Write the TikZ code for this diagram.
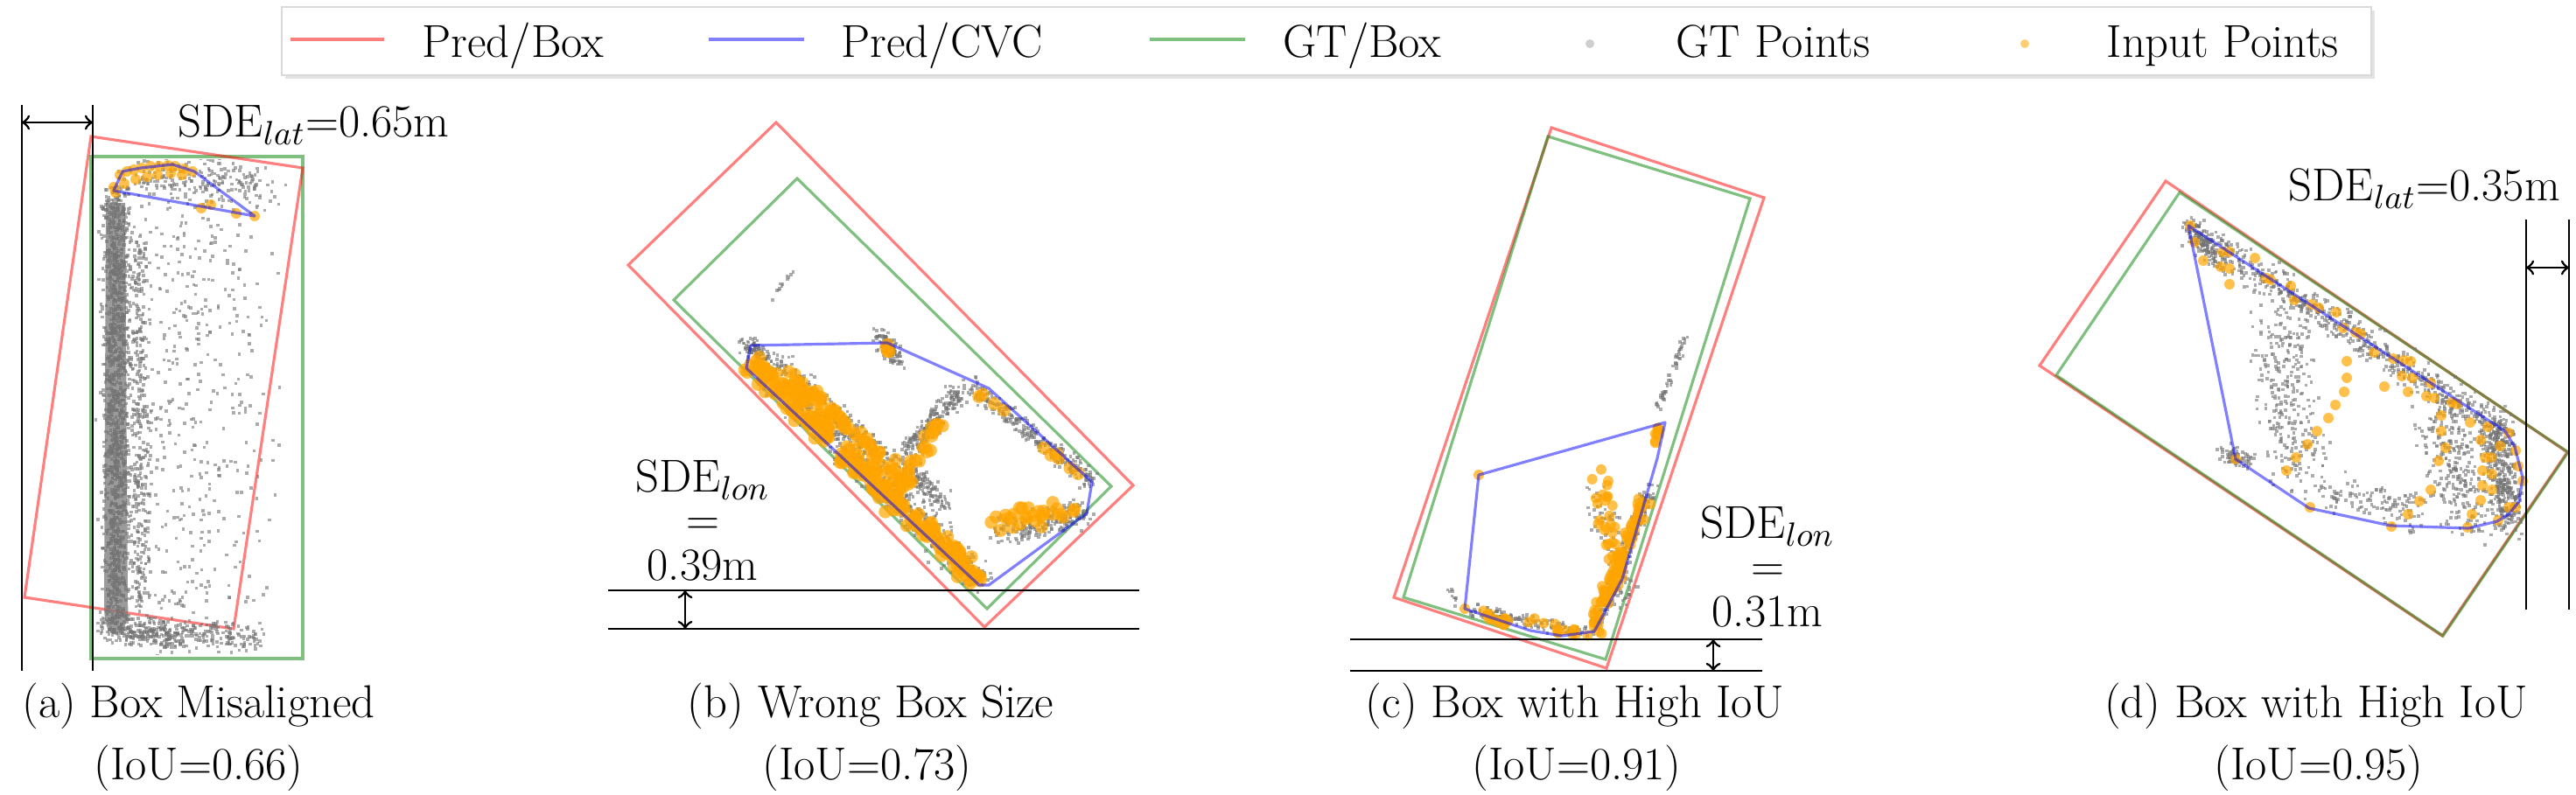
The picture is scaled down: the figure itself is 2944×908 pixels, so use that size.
\documentclass[tikz,border=0pt]{standalone}
\usepackage{tikz}
\usetikzlibrary{arrows,positioning}
\definecolor{gtgreen}{RGB}{0,128,0}
\definecolor{inorange}{RGB}{255,165,0}
\tikzset{
  predbox/.style={draw=red, draw opacity=0.5, line width=0.9pt},
  predcvc/.style={draw=blue, draw opacity=0.5, line width=0.9pt, line join=round},
  gtbox/.style={draw=gtgreen, draw opacity=0.5, line width=0.9pt},
  gtpt/.style={fill=gray!90!black, fill opacity=0.6},
  inpt/.style={fill=inorange, fill opacity=0.7},
  dimline/.style={black, line width=0.8pt},
  dimarrow/.style={<->, black, line width=0.8pt},
  sdelabel/.style={align=center, anchor=north},
}
% band of input points: count, x1, y1, x2, y2, spread, radius
\newcommand{\ptband}[7]{%
  \foreach \k in {1,...,#1}{%
    \pgfmathsetmacro{\tb}{rnd}%
    \fill[inpt] ({#2+(#4-#2)*\tb+#6*(rand+rand)/2},{-(#3+(#5-#3)*\tb+#6*(rand+rand)/2)}) circle (#7);
  }}
% band of GT points (small squares): count, x1, y1, x2, y2, spread
\newcommand{\gtband}[6]{%
  \foreach \k in {1,...,#1}{%
    \pgfmathsetmacro{\tb}{rnd}%
    \fill[gtpt] ({#2+(#4-#2)*\tb+#6*(rand+rand)/2},{-(#3+(#5-#3)*\tb+#6*(rand+rand)/2)}) rectangle ++(3.6,3.6);
  }}

\begin{document}
\begin{tikzpicture}[x=0.1mm, y=0.1mm]
  \tikzstyle{every node}+=[inner sep=0pt, font=\fontsize{15}{18}\selectfont]
  \useasboundingbox (0,0) rectangle (2944,-908);

  % legend
  \fill[gray!22] (326,-12) rectangle (2714,-90);
  \draw[gray!30, fill=white] (322,-8) rectangle (2710,-86);
  \draw[predbox] (332,-45) -- (439,-45);
  \node[anchor=base west] (lgPredBox) at (482,-65) {Pred/Box};
  \draw[predcvc] (810,-45) -- (919,-45);
  \node[anchor=base west] (lgPredCVC) at (961,-65) {Pred/CVC};
  \draw[gtbox] (1314,-45) -- (1423,-45);
  \node[anchor=base west] (lgGTBox) at (1466,-65) {GT/Box};
  \fill[gtpt, fill opacity=0.35] (1817,-50) circle (5);
  \node[anchor=base west] (lgGTPts) at (1915,-65) {GT Points};
  \fill[inpt, fill opacity=0.55] (2314,-50) circle (5);
  \node[anchor=base west] (lgInPts) at (2407,-65) {Input Points};

  % (a) box misaligned
  \pgfmathsetseed{11}
  \draw[gtbox] (104,-179) rectangle (346,-753);
  \draw[predbox] (104,-156) -- (346,-192) -- (267,-719) -- (28,-683) -- cycle;
  \begin{scope}
    \clip (107,-182) rectangle (343,-748);
    \fill[gray!95!black, fill opacity=0.75] (121,-232) -- (143,-232) -- (146,-690)
      .. controls (148,-712) and (140,-725) .. (130,-725)
      .. controls (122,-722) and (119,-712) .. (119,-690) -- cycle;
    \gtband{1300}{131}{222}{131}{712}{18}
    \gtband{360}{158}{260}{158}{690}{14}
    \gtband{240}{124}{720}{200}{730}{22}
    \gtband{150}{185}{724}{292}{732}{22}
    \gtband{200}{150}{202}{300}{215}{30}
    \gtband{520}{215}{205}{215}{735}{112}
  \end{scope}
  \foreach \x/\y in {130/214,137/200,145/196,153/194,162/192,172/190,182/190,192/189,
    200/190,210/193,220/196,142/210,155/205,168/202,180/200,195/198,208/200,132/220,
    230/238,241/234,270/244,291/247}
    \fill[inpt] (\x,-\y) circle (6);
  \draw[predcvc] (130,-218) -- (140,-196) -- (161,-192) -- (197,-188) -- (222,-196)
    -- (291,-247) -- cycle;
  \draw[dimline] (25,-120) -- (25,-767);
  \draw[dimline] (106,-120) -- (106,-767);
  \coordinate (aL) at (25,-140);
  \coordinate (aR) at (106,-140);
  \draw[dimarrow] (aL) -- (aR);
  \node[anchor=base west] (sdeA) at (203,-156) {SDE$_{lat}$=0.65m};
  \node[anchor=base] (capA) at (227,-820) {(a) Box Misaligned};
  \node[anchor=base] (iouA) at (227,-891) {(IoU=0.66)};

  % (b) wrong box size
  \pgfmathsetseed{23}
  \draw[predbox] (887,-140) -- (1295,-555) -- (1125,-717) -- (718,-303) -- cycle;
  \draw[gtbox] (911,-204) -- (1270,-556) -- (1128,-696) -- (770,-343) -- cycle;
  \gtband{600}{855}{405}{1122}{668}{22}
  \gtband{240}{890}{418}{1030}{545}{15}
  \gtband{220}{1034}{520}{1095}{450}{15}
  \gtband{280}{1105}{440}{1245}{552}{13}
  \gtband{220}{1140}{612}{1238}{588}{20}
  \gtband{140}{1030}{530}{1080}{580}{15}
  \gtband{120}{1002}{385}{1025}{415}{12}
  \gtband{80}{850}{392}{870}{410}{12}
  \gtband{12}{905}{310}{880}{345}{4}
  \ptband{220}{858}{412}{1120}{664}{16}{7.5}
  \ptband{60}{900}{425}{1040}{556}{11}{7.5}
  \ptband{24}{1030}{560}{1075}{480}{10}{7.5}
  \ptband{28}{1125}{600}{1232}{580}{15}{7.5}
  \ptband{10}{1110}{442}{1238}{548}{6}{7.5}
  \ptband{4}{1008}{392}{1016}{402}{4}{7.5}
  \draw[predcvc] (858,-395) -- (1014,-392) -- (1110,-435) -- (1130,-444) -- (1248,-551)
    -- (1242,-587) -- (1130,-669) -- (1119,-669) -- (853,-421) -- cycle;
  \draw[dimline] (695,-675) -- (1302,-675);
  \draw[dimline] (695,-719) -- (1302,-719);
  \coordinate (bT) at (783,-675);
  \coordinate (bB) at (783,-719);
  \draw[dimarrow] (bT) -- (bB);
  \node[sdelabel] (sdeB) at (803,-525) {SDE$_{lon}$\\[-4pt]=\\[-3.3pt]0.39m};
  \node[anchor=base] (capB) at (995,-820) {(b) Wrong Box Size};
  \node[anchor=base] (iouB) at (991,-891) {(IoU=0.73)};

  % (c) box with high IoU
  \pgfmathsetseed{37}
  \draw[predbox] (1773,-146) -- (2016,-226) -- (1836,-764) -- (1593,-683) -- cycle;
  \draw[gtbox] (1769,-156) -- (2000,-227) -- (1835,-754) -- (1604,-683) -- cycle;
  \gtband{130}{1680}{700}{1810}{725}{10}
  \gtband{240}{1822}{722}{1885}{560}{11}
  \gtband{100}{1820}{560}{1860}{690}{20}
  \gtband{50}{1893}{470}{1925}{385}{5}
  \gtband{10}{1652}{676}{1665}{694}{6}
  \ptband{80}{1822}{718}{1880}{565}{10}{6}
  \ptband{25}{1690}{705}{1815}{722}{8}{6}
  \ptband{34}{1830}{540}{1855}{680}{15}{6}
  \ptband{8}{1895}{485}{1890}{520}{5}{6}
  \fill[inpt] (1690,-543) circle (6);
  \fill[inpt] (1674,-696) circle (6);
  \draw[predcvc] (1690,-543) -- (1903,-483) -- (1894,-524) -- (1854,-662) -- (1822,-722)
    -- (1785,-727) -- (1749,-721) -- (1674,-696) -- cycle;
  \draw[dimline] (1543,-731) -- (2014,-731);
  \draw[dimline] (1543,-767) -- (2014,-767);
  \coordinate (cT) at (1958,-731);
  \coordinate (cB) at (1958,-767);
  \draw[dimarrow] (cT) -- (cB);
  \node[sdelabel] (sdeC) at (2020,-578) {SDE$_{lon}$\\[-4pt]=\\[-3.3pt]0.31m};
  \node[anchor=base] (capC) at (1800,-820) {(c) Box with High IoU};
  \node[anchor=base] (iouC) at (1802,-891) {(IoU=0.91)};

  % (d) box with high IoU
  \pgfmathsetseed{51}
  \draw[predbox] (2475,-207) -- (2934,-517) -- (2791,-727) -- (2331,-418) -- cycle;
  \draw[gtbox] (2491,-220) -- (2935,-517) -- (2792,-727) -- (2350,-429) -- cycle;
  \gtband{620}{2505}{266}{2860}{494}{22}
  \gtband{420}{2848}{485}{2866}{600}{22}
  \gtband{300}{2600}{360}{2625}{545}{40}
  \gtband{260}{2785}{470}{2820}{600}{38}
  \gtband{120}{2660}{560}{2760}{590}{25}
  \gtband{70}{2540}{518}{2570}{530}{12}
  \gtband{110}{2500}{255}{2530}{300}{12}
  \foreach \x/\y in {2503/258,2508/277,2518/298,2540/288,2548/288,2538/305,2548/307,
    2548/325,2577/295,2590/318,2595/320,2618/327,2622/343,2642/348,2650/352,2670/357,
    2678/375,2692/380,2698/382,2713/403,2735/410,2747/412,2755/413,2745/430,2757/432,
    2725/442,2752/448,2773/453,2782/455,2778/438,2802/460,2808/462,2790/475,2823/483,
    2843/488,2835/503,2857/510,2867/495,2790/493,2795/512,2787/527,2840/523,2847/523,
    2875/515,2878/533,2837/538,2848/542,2883/550,2837/555,2848/560,2778/560,2765/573,
    2835/572,2867/580,2875/580,2752/588,2825/588,2855/595,2733/602,2820/603,2640/580,
    2555/525,2682/413,2682/432,2679/448,2669/463,2661/478,2648/493,2637/508,2624/523,
    2613/538}
    \fill[inpt] (\x,-\y) circle (6);
  \draw[predcvc] (2501,-258) -- (2863,-493) -- (2874,-511) -- (2883,-546) -- (2879,-573)
    -- (2868,-587) -- (2854,-596) -- (2821,-604) -- (2732,-601) -- (2639,-581)
    -- (2555,-525) -- cycle;
  \draw[dimline] (2887,-251) -- (2887,-697);
  \draw[dimline] (2936,-251) -- (2936,-697);
  \coordinate (dL) at (2887,-306);
  \coordinate (dR) at (2936,-306);
  \draw[dimarrow] (dL) -- (dR);
  \node[anchor=base west] (sdeD) at (2615,-229) {SDE$_{lat}$=0.35m};
  \node[anchor=base] (capD) at (2647,-820) {(d) Box with High IoU};
  \node[anchor=base] (iouD) at (2650,-891) {(IoU=0.95)};
\end{tikzpicture}
\end{document}
